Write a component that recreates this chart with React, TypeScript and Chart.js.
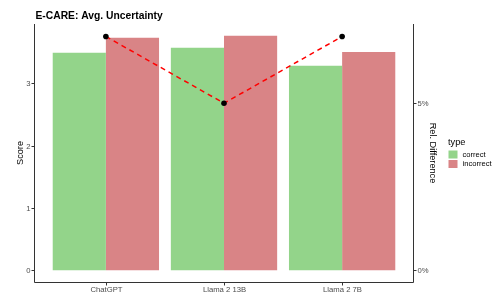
import React, { useEffect, useRef } from "react";
import { Chart, registerables } from "chart.js";

Chart.register(...registerables);

const categories = ["ChatGPT", "Llama 2 13B", "Llama 2 7B"];
const correctScores = [3.49, 3.57, 3.28];
const incorrectScores = [3.73, 3.76, 3.5];
const relDifference = [7.0, 5.0, 7.0];
const scoreTicks = [0, 1, 2, 3];
const relTicks = [0, 5];

const FONT = '"Liberation Sans", Arial, Helvetica, sans-serif';
const GREEN = "#93D48A";
const RED = "#D98486";
const AXIS = "#333333";
const TICKTXT = "#4D4D4D";

const Y_MIN = -0.19;
const Y_MAX = 3.95;
const K = 0.5357; // primary units per percent

const overlay = {
  id: "ggOverlay",
  afterDraw(chart: any) {
    const ctx = chart.ctx as CanvasRenderingContext2D;
    const a = chart.chartArea;
    const xs = chart.scales.x;
    const ys = chart.scales.y;
    const y2 = chart.scales.y2;
    ctx.save();
    // axis lines
    ctx.strokeStyle = AXIS;
    ctx.lineWidth = 1;
    ctx.beginPath();
    ctx.moveTo(a.left - 0.5, a.top);
    ctx.lineTo(a.left - 0.5, a.bottom + 0.5);
    ctx.lineTo(a.right + 0.5, a.bottom + 0.5);
    ctx.lineTo(a.right + 0.5, a.top);
    ctx.stroke();
    // left ticks
    ctx.font = `7.7px ${FONT}`;
    ctx.fillStyle = TICKTXT;
    ctx.textAlign = "right";
    ctx.textBaseline = "middle";
    scoreTicks.forEach((v) => {
      const py = Math.round(ys.getPixelForValue(v)) + 0.5;
      ctx.beginPath();
      ctx.moveTo(a.left - 3.5, py);
      ctx.lineTo(a.left - 0.5, py);
      ctx.stroke();
      ctx.fillText(String(v), a.left - 4.5, py);
    });
    // bottom ticks
    ctx.textAlign = "center";
    ctx.textBaseline = "top";
    categories.forEach((c, i) => {
      const px = Math.round(xs.getPixelForValue(i + 1)) + 0.5;
      ctx.beginPath();
      ctx.moveTo(px, a.bottom + 0.5);
      ctx.lineTo(px, a.bottom + 3.5);
      ctx.stroke();
      ctx.fillText(c, px, a.bottom + 4.5);
    });
    // right ticks
    ctx.textAlign = "left";
    ctx.textBaseline = "middle";
    relTicks.forEach((v) => {
      const py = Math.round(y2.getPixelForValue(v)) + 0.5;
      ctx.beginPath();
      ctx.moveTo(a.right + 0.5, py);
      ctx.lineTo(a.right + 3.5, py);
      ctx.stroke();
      ctx.fillText(v + "%", a.right + 4.5, py);
    });
    const midY = (a.top + a.bottom) / 2;
    // axis titles
    ctx.fillStyle = "#000000";
    ctx.font = `9.2px ${FONT}`;
    ctx.textAlign = "center";
    ctx.textBaseline = "middle";
    ctx.save();
    ctx.translate(20.5, midY);
    ctx.rotate(-Math.PI / 2);
    ctx.fillText("Score", 0, 0);
    ctx.restore();
    ctx.save();
    ctx.translate(433, midY);
    ctx.rotate(Math.PI / 2);
    ctx.fillText("Rel. Difference", 0, 0);
    ctx.restore();
    // title
    ctx.font = `bold 10.3px ${FONT}`;
    ctx.textAlign = "left";
    ctx.textBaseline = "alphabetic";
    ctx.fillText("E-CARE: Avg. Uncertainty", 35.5, 18.5);
    // legend
    ctx.font = `9.2px ${FONT}`;
    ctx.textBaseline = "middle";
    ctx.fillText("type", 448, 142.5);
    ctx.fillStyle = GREEN;
    ctx.fillRect(448.5, 150.5, 9, 8);
    ctx.fillStyle = RED;
    ctx.fillRect(448.5, 160, 9, 8);
    ctx.fillStyle = "#000000";
    ctx.font = `7.6px ${FONT}`;
    ctx.fillText("correct", 462.5, 154.5);
    ctx.fillText("incorrect", 462.5, 164);
    ctx.restore();
  },
};

export default function App() {
  const ref = useRef<HTMLCanvasElement>(null);
  useEffect(() => {
    const canvas = ref.current;
    if (!canvas) return;
    const chart = new Chart(canvas, {
      type: "bar",
      data: {
        datasets: [
          {
            type: "line",
            label: "Rel. Difference",
            data: relDifference.map((v, i) => ({ x: i + 1, y: v })),
            yAxisID: "y2",
            xAxisID: "x",
            borderColor: "#FF0000",
            borderWidth: 1.5,
            borderDash: [5, 4],
            pointRadius: 2.8,
            pointBackgroundColor: "#000000",
            pointBorderColor: "#000000",
            pointBorderWidth: 0,
            tension: 0,
            order: 0,
          } as any,
          {
            label: "correct",
            data: correctScores.map((v, i) => ({ x: i + 1, y: v })),
            backgroundColor: GREEN,
            borderWidth: 0,
            yAxisID: "y",
            xAxisID: "x",
            categoryPercentage: 0.9,
            barPercentage: 1.0,
            order: 1,
          },
          {
            label: "incorrect",
            data: incorrectScores.map((v, i) => ({ x: i + 1, y: v })),
            backgroundColor: RED,
            borderWidth: 0,
            yAxisID: "y",
            xAxisID: "x",
            categoryPercentage: 0.9,
            barPercentage: 1.0,
            order: 1,
          },
        ],
      },
      options: {
        animation: false,
        responsive: false,
        maintainAspectRatio: false,
        devicePixelRatio: 1,
        layout: { padding: { left: 35, right: 83, top: 24, bottom: 14 } },
        plugins: {
          legend: { display: false },
          tooltip: { enabled: false },
          title: { display: false },
        },
        scales: {
          x: {
            type: "linear",
            display: false,
            min: 0.4,
            max: 3.6,
            offset: false,
            afterBuildTicks: (s: any) => {
              s.ticks = [1, 2, 3].map((v) => ({ value: v }));
            },
          },
          y: {
            type: "linear",
            display: false,
            min: Y_MIN,
            max: Y_MAX,
          },
          y2: {
            type: "linear",
            display: false,
            position: "right",
            min: Y_MIN / K,
            max: Y_MAX / K,
          },
        },
      },
      plugins: [overlay],
    });
    return () => chart.destroy();
  }, []);
  return (
    <div style={{ position: "fixed", left: 0, top: 0, width: 496, height: 296, background: "#fff" }}>
      <canvas ref={ref} width={496} height={296} style={{ display: "block" }} />
    </div>
  );
}
